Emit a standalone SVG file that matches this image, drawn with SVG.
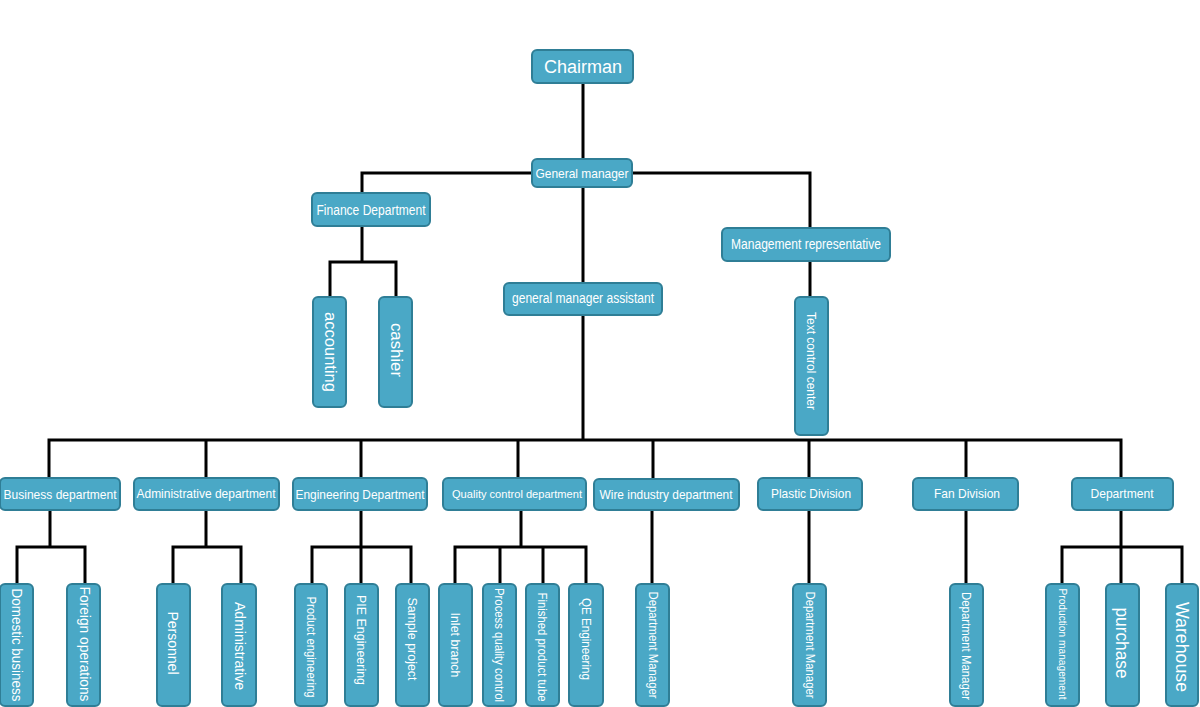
<svg xmlns="http://www.w3.org/2000/svg" width="1200" height="707" viewBox="0 0 1200 707">
<style>
.box{fill:#4aa8c6;stroke:#2f7e96;stroke-width:2}
.t{font-family:"Liberation Sans",Arial,sans-serif;fill:#ffffff;text-anchor:middle;dominant-baseline:central}
.c{fill:none;stroke:#000000;stroke-width:3;stroke-linejoin:miter}
</style>
<rect width="1200" height="707" fill="#ffffff"/>
<g id="connectors">
<path class="c" d="M583 83V160M583 187V283M583 315V440"/>
<path class="c" d="M362 193V173H810V228"/>
<path class="c" d="M362 226V262M330 297V262H396V297"/>
<path class="c" d="M810 261V297"/>
<path class="c" d="M49 478V440H1121V478M206 440V478M361 440V478M518 440V478M653 440V478M809 440V478M966 440V478"/>
<path class="c" d="M50 510V547M17 584V547H85V584"/>
<path class="c" d="M206 510V547M173 584V547H241V584"/>
<path class="c" d="M361 510V584M312 584V547H411V584"/>
<path class="c" d="M521 510V547M455 584V547H586V584M500 547V584M543 547V584"/>
<path class="c" d="M652 510V584"/>
<path class="c" d="M809 510V584"/>
<path class="c" d="M966 510V584"/>
<path class="c" d="M1121 510V584M1062 584V547H1182V584"/>
</g>
<g id="chairman"><rect class="box" x="532" y="50" width="101" height="33" rx="5"/><text class="t" x="583" y="67" font-size="18">Chairman</text></g>
<g id="general-manager"><rect class="box" x="532" y="159" width="100" height="28" rx="5"/><text class="t" x="582" y="173" font-size="13" textLength="93" lengthAdjust="spacingAndGlyphs">General manager</text></g>
<g id="finance"><rect class="box" x="312" y="193" width="118" height="33" rx="5"/><text class="t" x="371" y="210" font-size="14" textLength="109" lengthAdjust="spacingAndGlyphs">Finance Department</text></g>
<g id="mgmt-rep"><rect class="box" x="722" y="228" width="168" height="33" rx="5"/><text class="t" x="806" y="244" font-size="14" textLength="150" lengthAdjust="spacingAndGlyphs">Management representative</text></g>
<g id="gm-assistant"><rect class="box" x="504" y="283" width="158" height="32" rx="5"/><text class="t" x="583" y="298" font-size="14" textLength="142" lengthAdjust="spacingAndGlyphs">general manager assistant</text></g>
<g id="accounting"><rect class="box" x="313" y="297" width="33" height="110" rx="5"/><text class="t" transform="translate(330 352) rotate(90)" font-size="17" textLength="80" lengthAdjust="spacingAndGlyphs">accounting</text></g>
<g id="cashier"><rect class="box" x="379" y="297" width="33" height="110" rx="5"/><text class="t" transform="translate(396 350) rotate(90)" font-size="17" textLength="54" lengthAdjust="spacingAndGlyphs">cashier</text></g>
<g id="text-control"><rect class="box" x="795" y="297" width="33" height="138" rx="5"/><text class="t" transform="translate(811 361) rotate(90)" font-size="12" textLength="98" lengthAdjust="spacingAndGlyphs">Text control center</text></g>

<g id="business"><rect class="box" x="0" y="478" width="120" height="32" rx="5"/><text class="t" x="60" y="494" font-size="13" textLength="113" lengthAdjust="spacingAndGlyphs">Business department</text></g>
<g id="administrative-dept"><rect class="box" x="134" y="478" width="145" height="32" rx="5"/><text class="t" x="206" y="493" font-size="13" textLength="139" lengthAdjust="spacingAndGlyphs">Administrative department</text></g>
<g id="engineering"><rect class="box" x="293" y="478" width="134" height="32" rx="5"/><text class="t" x="360" y="494" font-size="13" textLength="129" lengthAdjust="spacingAndGlyphs">Engineering Department</text></g>
<g id="quality"><rect class="box" x="443" y="478" width="143" height="32" rx="5"/><text class="t" x="517" y="494" font-size="11" textLength="130" lengthAdjust="spacingAndGlyphs">Quality control department</text></g>
<g id="wire"><rect class="box" x="594" y="479" width="145" height="31" rx="5"/><text class="t" x="666" y="494" font-size="13" textLength="133" lengthAdjust="spacingAndGlyphs">Wire industry department</text></g>
<g id="plastic"><rect class="box" x="758" y="478" width="104" height="32" rx="5"/><text class="t" x="811" y="493" font-size="13" textLength="80" lengthAdjust="spacingAndGlyphs">Plastic Division</text></g>
<g id="fan"><rect class="box" x="913" y="478" width="105" height="32" rx="5"/><text class="t" x="967" y="493" font-size="13" textLength="66" lengthAdjust="spacingAndGlyphs">Fan Division</text></g>
<g id="department"><rect class="box" x="1072" y="478" width="101" height="32" rx="5"/><text class="t" x="1122" y="493" font-size="13" textLength="63" lengthAdjust="spacingAndGlyphs">Department</text></g>

<g id="domestic"><rect class="box" x="0" y="584" width="33" height="122" rx="5"/><text class="t" transform="translate(17 645) rotate(90)" font-size="14" textLength="113" lengthAdjust="spacingAndGlyphs">Domestic business</text></g>
<g id="foreign"><rect class="box" x="67" y="584" width="33" height="122" rx="5"/><text class="t" transform="translate(85 644) rotate(90)" font-size="14" textLength="115" lengthAdjust="spacingAndGlyphs">Foreign operations</text></g>
<g id="personnel"><rect class="box" x="157" y="584" width="33" height="122" rx="5"/><text class="t" transform="translate(173 643) rotate(90)" font-size="15" textLength="63" lengthAdjust="spacingAndGlyphs">Personnel</text></g>
<g id="administrative"><rect class="box" x="222" y="584" width="34" height="122" rx="5"/><text class="t" transform="translate(240 646) rotate(90)" font-size="15" textLength="88" lengthAdjust="spacingAndGlyphs">Administrative</text></g>
<g id="product-eng"><rect class="box" x="295" y="584" width="32" height="122" rx="5"/><text class="t" transform="translate(311 647) rotate(90)" font-size="12" textLength="101" lengthAdjust="spacingAndGlyphs">Product engineering</text></g>
<g id="pie"><rect class="box" x="345" y="584" width="33" height="122" rx="5"/><text class="t" transform="translate(361 640) rotate(90)" font-size="12" textLength="90" lengthAdjust="spacingAndGlyphs">PIE Engineering</text></g>
<g id="sample"><rect class="box" x="396" y="584" width="33" height="122" rx="5"/><text class="t" transform="translate(412 639) rotate(90)" font-size="12" textLength="83" lengthAdjust="spacingAndGlyphs">Sample project</text></g>
<g id="inlet"><rect class="box" x="439" y="584" width="33" height="122" rx="5"/><text class="t" transform="translate(455 645) rotate(90)" font-size="12" textLength="65" lengthAdjust="spacingAndGlyphs">Inlet branch</text></g>
<g id="process-qc"><rect class="box" x="483" y="584" width="33" height="122" rx="5"/><text class="t" transform="translate(499 645) rotate(90)" font-size="12" textLength="114" lengthAdjust="spacingAndGlyphs">Process quality control</text></g>
<g id="finished"><rect class="box" x="526" y="584" width="33" height="122" rx="5"/><text class="t" transform="translate(542 647) rotate(90)" font-size="12" textLength="109" lengthAdjust="spacingAndGlyphs">Finished product tube</text></g>
<g id="qe"><rect class="box" x="569" y="584" width="34" height="122" rx="5"/><text class="t" transform="translate(586 639) rotate(90)" font-size="12" textLength="82" lengthAdjust="spacingAndGlyphs">QE Engineering</text></g>
<g id="wire-manager"><rect class="box" x="636" y="584" width="33" height="122" rx="5"/><text class="t" transform="translate(653 645) rotate(90)" font-size="12" textLength="107" lengthAdjust="spacingAndGlyphs">Department Manager</text></g>
<g id="plastic-manager"><rect class="box" x="793" y="584" width="33" height="122" rx="5"/><text class="t" transform="translate(810 645) rotate(90)" font-size="12" textLength="107" lengthAdjust="spacingAndGlyphs">Department Manager</text></g>
<g id="fan-manager"><rect class="box" x="950" y="584" width="33" height="122" rx="5"/><text class="t" transform="translate(966 646) rotate(90)" font-size="12" textLength="108" lengthAdjust="spacingAndGlyphs">Department Manager</text></g>
<g id="production"><rect class="box" x="1046" y="584" width="33" height="122" rx="5"/><text class="t" transform="translate(1062 644) rotate(90)" font-size="10" textLength="111" lengthAdjust="spacingAndGlyphs">Production management</text></g>
<g id="purchase"><rect class="box" x="1106" y="584" width="33" height="122" rx="5"/><text class="t" transform="translate(1122 643) rotate(90)" font-size="19" textLength="71" lengthAdjust="spacingAndGlyphs">purchase</text></g>
<g id="warehouse"><rect class="box" x="1166" y="584" width="32" height="122" rx="5"/><text class="t" transform="translate(1182 647) rotate(90)" font-size="19" textLength="90" lengthAdjust="spacingAndGlyphs">Warehouse</text></g>
</svg>
